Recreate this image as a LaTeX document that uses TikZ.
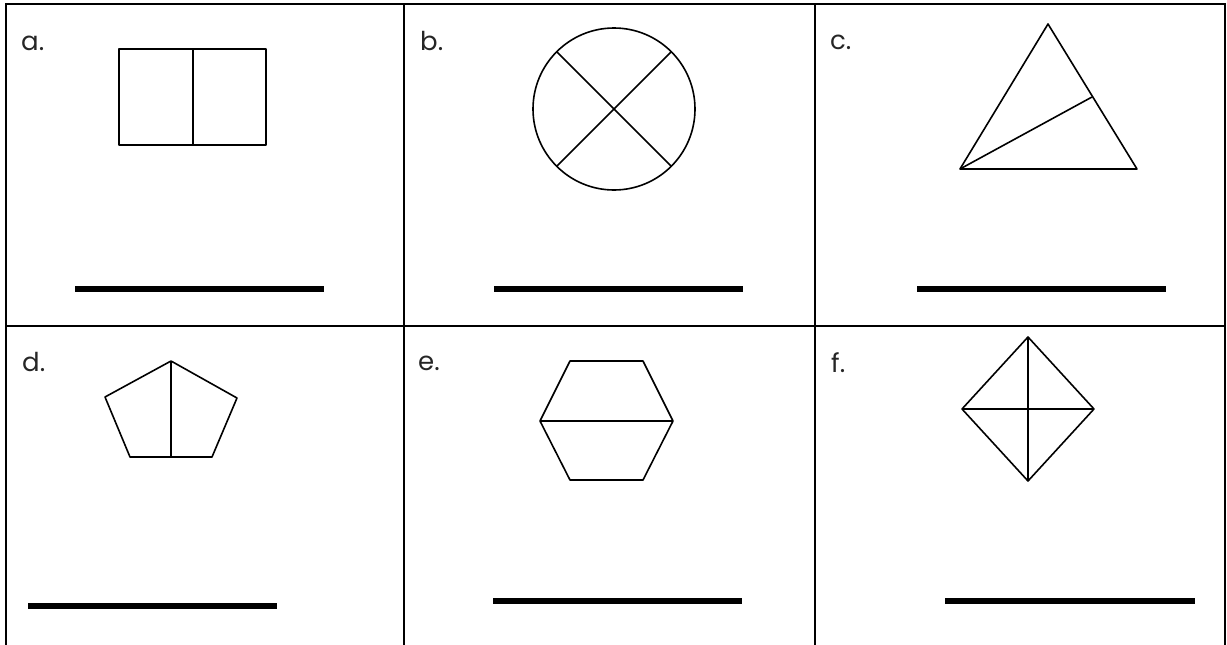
\documentclass[tikz,border=0pt]{standalone}
\usepackage{fontspec}
\setmainfont{Poppins}
\usetikzlibrary{positioning}

\begin{document}
\begin{tikzpicture}[
    x=1pt, y=-1pt,
    gridline/.style={line width=1.8pt},
    shapeline/.style={line width=1.6pt, line join=round},
    answer/.style={line width=5.5pt},
    tag/.style={anchor=base west, inner sep=0pt, font=\fontsize{26}{30}\selectfont, text=black!85}
]
\useasboundingbox (0,0) rectangle (1227,645);

% table
\draw[gridline] (6,645) -- (6,4) -- (1225,4) -- (1225,645);
\draw[gridline] (6,326) -- (1225,326);
\draw[gridline] (404,4) -- (404,645);
\draw[gridline] (815,4) -- (815,645);

% labels
\node[tag] (la) at (21,50) {a.};
\node[tag] (lb) at (420,50) {b.};
\node[tag] (lc) at (830,49) {c.};
\node[tag] (ld) at (22,371) {d.};
\node[tag] (le) at (418,370) {e.};
\node[tag] (lf) at (831,372) {f.};

% a. rectangle in halves
\draw[shapeline] (119,49) rectangle (266,145);
\draw[shapeline] (193,49) -- (193,145);

% b. circle in quarters
\draw[shapeline] (614,109) circle[radius=81];
\draw[shapeline] (614,109) ++(45:81) -- ++(225:162);
\draw[shapeline] (614,109) ++(135:81) -- ++(-45:162);

% c. triangle
\draw[shapeline] (1048,24) -- (960,169) -- (1137,169) -- cycle;
\draw[shapeline] (960,169) -- (1092,97);

% d. pentagon
\draw[shapeline] (171,361) -- (237,398) -- (212,457) -- (130,457) -- (105,397) -- cycle;
\draw[shapeline] (171,361) -- (171,457);

% e. hexagon
\draw[shapeline] (570,361) -- (643,361) -- (673,421) -- (643,480) -- (570,480) -- (540,421) -- cycle;
\draw[shapeline] (540,421) -- (673,421);

% f. diamond
\draw[shapeline] (1028,337) -- (1094,409) -- (1028,481) -- (962,409) -- cycle;
\draw[shapeline] (1028,337) -- (1028,481);
\draw[shapeline] (962,409) -- (1094,409);

% answer lines
\foreach \xa/\xb/\yy in {75/324/289, 494/743/289, 917/1166/289, 28/277/606, 493/742/601, 945/1195/601}
  \draw[answer] (\xa,\yy) -- (\xb,\yy);
\end{tikzpicture}
\end{document}
